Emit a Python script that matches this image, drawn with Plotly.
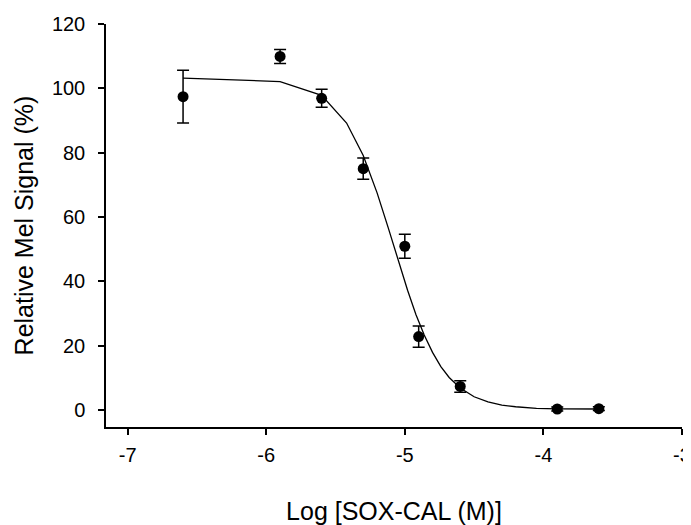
import plotly.graph_objects as go

# Measured data points
log_conc = [-6.6, -5.9, -5.6, -5.3, -5.0, -4.9, -4.6, -3.9, -3.6]
signal = [97.4, 109.9, 96.9, 75.0, 50.9, 22.8, 7.3, 0.3, 0.4]
signal_err = [8.2, 2.2, 2.8, 3.3, 3.7, 3.3, 1.8, 0.6, 0.6]

# Fitted curve
curve_x = [-6.6, -5.9, -5.6, -5.42, -5.3, -5.2, -5.12, -5.05, -4.98, -4.92,
           -4.86, -4.8, -4.74, -4.68, -4.6, -4.5, -4.4, -4.3, -4.2, -4.05,
           -3.9, -3.6]
curve_y = [103.2, 102.1, 97.8, 89.2, 79.1, 67.5, 56.7, 46.7, 37.2, 29.7,
           23.3, 17.9, 13.5, 10.1, 6.8, 4.1, 2.5, 1.5, 1.0, 0.5,
           0.35, 0.3]

x_ticks = [-7, -6, -5, -4, -3]
y_ticks = [0, 20, 40, 60, 80, 100, 120]

FONT = "Liberation Sans, Arial, sans-serif"

fig = go.Figure()
fig.add_trace(go.Scatter(
    x=curve_x, y=curve_y, mode="lines",
    line=dict(color="black", width=1.3),
    showlegend=False, hoverinfo="skip",
))
fig.add_trace(go.Scatter(
    x=log_conc, y=signal, mode="markers",
    marker=dict(color="black", size=11),
    error_y=dict(type="data", array=signal_err, visible=True,
                 color="black", thickness=1.5, width=6),
    showlegend=False,
))

# the page body has an 8px margin, so the figure is sized 8px smaller
fig.update_layout(
    width=683, height=517,
    margin=dict(l=98, r=9, t=16, b=98),
    paper_bgcolor="white", plot_bgcolor="white",
    font=dict(family=FONT, color="black"),
    xaxis=dict(
        range=[-7.156, -3], tickvals=x_ticks, ticktext=[str(v) for v in x_ticks],
        showline=True, linecolor="black", linewidth=1.5,
        ticks="outside", ticklen=6, tickwidth=1.5, tickcolor="black",
        showgrid=False, zeroline=False, automargin=False,
        tickfont=dict(size=20, family=FONT), ticklabelstandoff=3,
        title=dict(text="Log [SOX-CAL (M)]", font=dict(size=25, family=FONT), standoff=39),
    ),
    yaxis=dict(
        range=[-5.3, 120], tickvals=y_ticks, ticktext=[str(v) for v in y_ticks],
        showline=True, linecolor="black", linewidth=1.5,
        ticks="outside", ticklen=6, tickwidth=1.5, tickcolor="black",
        showgrid=False, zeroline=False, automargin=False,
        tickfont=dict(size=20, family=FONT), ticklabelstandoff=9,
        title=dict(text="Relative Mel Signal (%)", font=dict(size=25, family=FONT), standoff=11),
    ),
)

fig.write_html("out.html")
